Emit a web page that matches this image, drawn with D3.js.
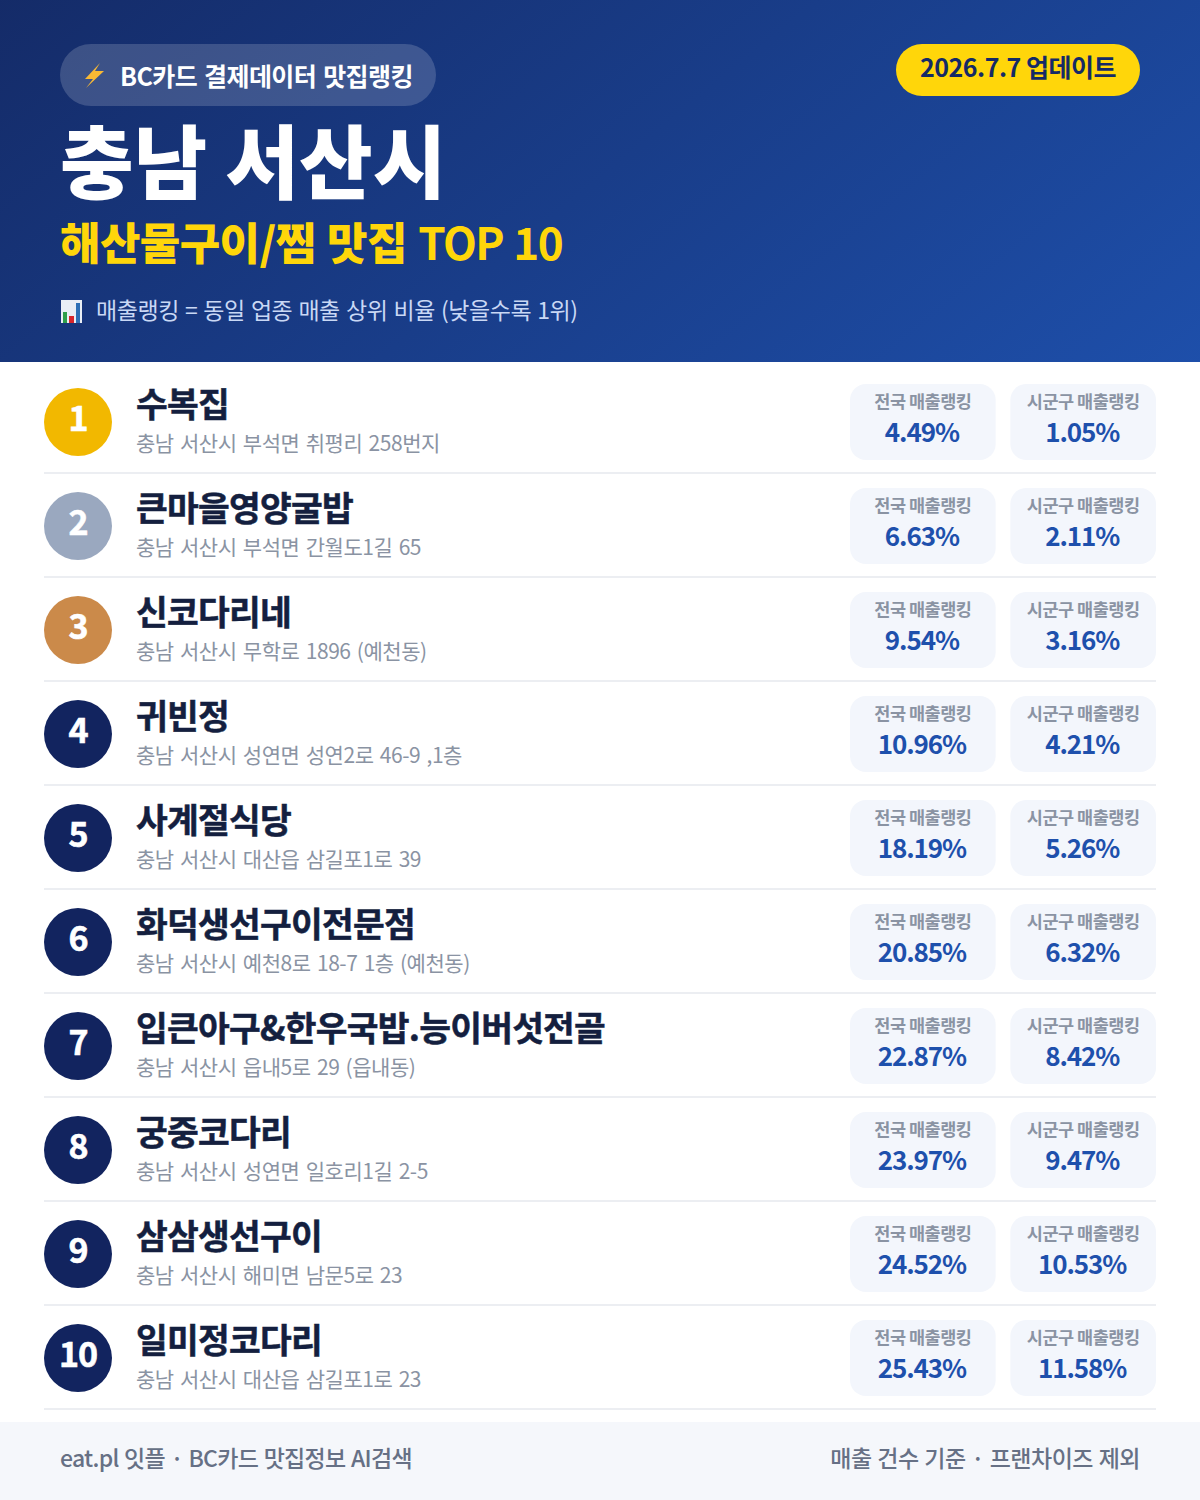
<!DOCTYPE html>
<html>
<head>
  <meta charset="utf-8">
  <script src="https://d3js.org/d3.v7.min.js"></script>
  <style>
    html, body { margin: 0; padding: 0; background: #fff; }
    svg { display: block; }
    text { font-family: 'Noto Sans CJK KR', sans-serif; }
  </style>
</head>
<body>
  <div id="my_dataviz"></div>
  <script>
    // data
    var ranks = [1, 2, 3, 4, 5, 6, 7, 8, 9, 10];
    var names = ["수복집", "큰마을영양굴밥", "신코다리네", "귀빈정", "사계절식당", "화덕생선구이전문점",
      "입큰아구&한우국밥.능이버섯전골", "궁중코다리", "삼삼생선구이", "일미정코다리"];
    var addresses = ["충남 서산시 부석면 취평리 258번지", "충남 서산시 부석면 간월도1길 65", "충남 서산시 무학로 1896 (예천동)",
      "충남 서산시 성연면 성연2로 46-9 ,1층", "충남 서산시 대산읍 삼길포1로 39", "충남 서산시 예천8로 18-7 1층 (예천동)",
      "충남 서산시 읍내5로 29 (읍내동)", "충남 서산시 성연면 일호리1길 2-5", "충남 서산시 해미면 남문5로 23", "충남 서산시 대산읍 삼길포1로 23"];
    var nationalRank = [4.49, 6.63, 9.54, 10.96, 18.19, 20.85, 22.87, 23.97, 24.52, 25.43];
    var districtRank = [1.05, 2.11, 3.16, 4.21, 5.26, 6.32, 8.42, 9.47, 10.53, 11.58];
    var metricLabels = ["전국 매출랭킹", "시군구 매출랭킹"];

    var width = 1200, height = 1500;
    var svg = d3.select("#my_dataviz").append("svg")
      .attr("width", width).attr("height", height);

    // header gradient
    var defs = svg.append("defs");
    var grad = defs.append("linearGradient").attr("id", "head")
      .attr("gradientUnits", "userSpaceOnUse")
      .attr("x1", 250).attr("y1", -250).attr("x2", 950).attr("y2", 610);
    grad.append("stop").attr("offset", "0").attr("stop-color", "#142a66");
    grad.append("stop").attr("offset", "1").attr("stop-color", "#1e50ac");

    svg.append("rect").attr("width", width).attr("height", 362).attr("fill", "url(#head)");

    function label(g, x, y, str, size, weight, fill, anchor, spacing, wordGap) {
      return g.append("text").attr("x", x).attr("y", y)
        .attr("font-size", size).attr("font-weight", weight).attr("fill", fill)
        .attr("text-anchor", anchor || "start")
        .attr("letter-spacing", spacing || 0)
        .attr("word-spacing", wordGap || 0)
        .text(str);
    }

    // badge
    svg.append("rect").attr("x", 60).attr("y", 44).attr("width", 376).attr("height", 62).attr("rx", 31)
      .attr("fill", "#ffffff").attr("fill-opacity", 0.17);
    svg.append("path").attr("d", "M100 63 L85 79 L93 79 L86 88 L104 71 L95 71 Z").attr("fill", "#f9b934");
    label(svg, 120, 86, "BC카드 결제데이터 맛집랭킹", 25, 700, "#fff", "start", -0.6, 2);

    // update pill
    svg.append("rect").attr("x", 896).attr("y", 44).attr("width", 244).attr("height", 52).attr("rx", 26).attr("fill", "#ffd60a");
    label(svg, 1018, 77, "2026.7.7 업데이트", 25, 700, "#142a66", "middle", -0.5);

    // titles
    label(svg, 60, 192, "충남 서산시", 80, 900, "#fff", "start", 0);
    var sub = label(svg, 60, 260, "해산물구이/찜 맛집 ", 44, 900, "#ffd60a", "start", -0.6, 2);
    sub.append("tspan").attr("font-weight", 700).attr("letter-spacing", -1.6).attr("word-spacing", 2).text("TOP 10");

    // chart icon + note
    svg.append("rect").attr("x", 61).attr("y", 300).attr("width", 21).attr("height", 23).attr("fill", "#e9eef5");
    svg.append("rect").attr("x", 63).attr("y", 312).attr("width", 4).attr("height", 11).attr("fill", "#2e9e4a");
    svg.append("rect").attr("x", 69).attr("y", 316).attr("width", 5).attr("height", 7).attr("fill", "#d8262c");
    svg.append("rect").attr("x", 76).attr("y", 303).attr("width", 4).attr("height", 20).attr("fill", "#2d6fb5");
    label(svg, 96, 319, "매출랭킹 = 동일 업종 매출 상위 비율 (낮을수록 1위)", 23, 400, "#c9d8f5", "start", -0.45, 1.4);

    // list rows
    var y = d3.scaleBand().domain(ranks).range([370, 1410]);
    var x = d3.scaleBand().domain(metricLabels).range([850, 1156]).paddingInner(0.0915);
    var rankColor = d3.scaleOrdinal().domain([1, 2, 3])
      .range(["#f2b800", "#9aa8bf", "#cb8a4a"]).unknown("#12245f");

    var rows = svg.selectAll(".row").data(ranks).enter().append("g")
      .attr("class", "row")
      .attr("transform", function (d) { return "translate(0," + y(d) + ")"; });

    rows.append("line").attr("x1", 44).attr("x2", 1156).attr("y1", 103).attr("y2", 103)
      .attr("stroke", "#eceef2").attr("stroke-width", 2);
    rows.append("circle").attr("cx", 78).attr("cy", 52).attr("r", 34)
      .attr("fill", function (d) { return rankColor(d); });
    rows.append("text").attr("x", 78).attr("y", 61).attr("text-anchor", "middle")
      .attr("font-size", 34).attr("font-weight", 700).attr("fill", "#fff")
      .attr("stroke", "#fff").attr("stroke-width", 0.6)
      .attr("letter-spacing", -1)
      .text(function (d) { return d; });
    rows.append("text").attr("x", 136).attr("y", 47)
      .attr("font-size", 34.5).attr("font-weight", 700).attr("fill", "#141f3f")
      .attr("stroke", "#141f3f").attr("stroke-width", 0.5)
      .attr("letter-spacing", -0.75)
      .text(function (d, i) { return names[i]; });
    rows.append("text").attr("x", 136).attr("y", 81)
      .attr("font-size", 21).attr("font-weight", 400).attr("fill", "#8a93a3")
      .attr("letter-spacing", -0.45).attr("word-spacing", 2)
      .text(function (d, i) { return addresses[i]; });

    var fmt = function (v) { return d3.format(".2f")(v) + "%"; };
    metricLabels.forEach(function (m, k) {
      var vals = k === 0 ? nationalRank : districtRank;
      var cx = x(m) + x.bandwidth() / 2;
      rows.append("rect").attr("x", x(m)).attr("y", 14).attr("width", x.bandwidth()).attr("height", 76)
        .attr("rx", 16).attr("fill", "#f3f6fc");
      rows.append("text").attr("x", cx).attr("y", 38).attr("text-anchor", "middle")
        .attr("font-size", 17.5).attr("font-weight", 700).attr("fill", "#8a93a3")
        .attr("letter-spacing", -0.5).text(m);
      rows.append("text").attr("x", cx - 1).attr("y", 72).attr("text-anchor", "middle")
        .attr("font-size", 26).attr("font-weight", 700).attr("fill", "#1e50ac")
        .attr("letter-spacing", -1.1)
        .text(function (d, i) { return fmt(vals[i]); });
    });

    // footer
    svg.append("rect").attr("y", 1422).attr("width", width).attr("height", 78).attr("fill", "#f5f7fb");
    label(svg, 60, 1467, "eat.pl 잇플 · BC카드 맛집정보 AI검색", 23, 500, "#667085", "start", -0.7, 1);
    label(svg, 1140, 1467, "매출 건수 기준 · 프랜차이즈 제외", 23, 500, "#667085", "end", -0.5, 1);
  </script>
</body>
</html>
